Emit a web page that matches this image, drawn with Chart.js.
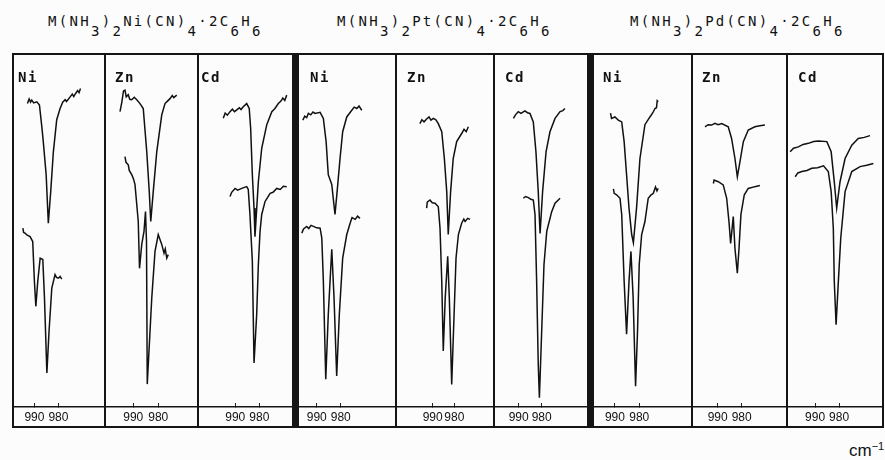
<!DOCTYPE html>
<html>
<head>
<meta charset="utf-8">
<script src="https://cdn.jsdelivr.net/npm/chart.js@4"></script>
<style>
  body { margin: 0; background: #fcfcfc; }
  #fig { position: relative; width: 885px; height: 460px; overflow: hidden; }
  .title { position: absolute; top: 14px; font: 14px "DejaVu Sans Mono", monospace; letter-spacing: 2.3px; color: #111; line-height: 14px; white-space: nowrap; }
  .title .s { position: relative; top: 10px; }
  .lab { position: absolute; top: 70px; font: bold 14px "DejaVu Sans Mono", monospace; letter-spacing: 1.5px; color: #111; line-height: 14px; }
  .ln { position: absolute; background: #151515; }
  .panel { position: absolute; top: 55px; }
  #unit { position: absolute; left: 849px; top: 442px; font: 17px "Liberation Sans", sans-serif; color: #111; line-height: 17px; }
  #unit span { position: relative; top: -6px; font-size: 11px; }
</style>
</head>
<body>
<div id="fig">
  <div class="title" style="left:48px">M(NH<span class="s">3</span>)<span class="s">2</span>Ni(CN)<span class="s">4</span>·2C<span class="s">6</span>H<span class="s">6</span></div>
  <div class="title" style="left:337px">M(NH<span class="s">3</span>)<span class="s">2</span>Pt(CN)<span class="s">4</span>·2C<span class="s">6</span>H<span class="s">6</span></div>
  <div class="title" style="left:630px">M(NH<span class="s">3</span>)<span class="s">2</span>Pd(CN)<span class="s">4</span>·2C<span class="s">6</span>H<span class="s">6</span></div>
  <div id="unit">cm<span>−1</span></div>
</div>
<script>
// wavenumber ticks shown on every panel
const tickValues = [990, 980];

// [wavenumber cm-1, transmittance %]
// M(NH3)2Ni(CN)4.2C6H6
const niNiUpper = [[992.9,86.2],[992.2,87.5],[991.6,86.6],[991.1,87.2],[990.3,86.4],[989.0,86.7],[987.9,85.8],[986.9,79.6],[986.3,75.4],[985.1,66.0],[984.2,52.2],[983.2,61.2],[982.1,72.5],[980.7,81.6],[979.3,84.8],[978.2,86.6],[977.2,87.3],[976.6,86.8],[975.1,88.1],[974.2,88.9],[973.6,88.2],[972.9,89.0],[972.0,89.9],[971.4,89.3],[970.8,90.5]];
const niNiLower = [[994.8,50.8],[994.5,49.6],[993.9,49.4],[993.0,48.8],[991.8,48.4],[990.7,47.0],[990.0,35.7],[989.4,28.6],[988.6,35.7],[987.6,42.3],[986.5,41.9],[985.8,31.0],[984.8,9.7],[983.9,21.5],[982.75,33.8],[981.4,37.6],[980.8,36.8],[980.0,36.6],[979.3,37.1],[978.6,36.3]];
const niZnUpper = [[995.3,83.9],[994.6,86.5],[993.9,89.8],[993.3,90.0],[992.8,88.1],[992.0,88.7],[991.4,87.4],[990.6,87.3],[989.6,88.0],[988.6,87.3],[987.3,86.2],[986.0,84.8],[984.6,72.5],[983.6,61.2],[983.0,52.7],[982.0,61.2],[980.6,72.5],[978.6,83.0],[977.3,86.2],[976.3,86.9],[975.3,87.6],[974.4,88.5],[973.8,87.9],[972.6,88.6]];
const niZnLower = [[993.3,71.1],[992.9,69.5],[992.0,68.8],[991.6,67.2],[990.6,66.0],[989.9,64.8],[989.3,63.2],[988.0,52.7],[987.5,39.4],[986.6,46.2],[985.7,49.9],[985.1,55.5],[984.7,47.0],[984.4,6.5],[982.6,30.9],[981.3,44.2],[980.0,49.0],[978.6,46.2],[977.7,43.7],[977.2,44.9],[976.6,42.3],[976.0,43.3]];
const niCdUpper = [[995.0,82.0],[994.2,83.5],[993.3,82.9],[992.2,83.9],[991.2,84.6],[990.3,83.9],[989.4,84.4],[988.3,85.0],[987.6,84.5],[986.7,85.3],[985.25,86.2],[984.2,84.8],[983.6,79.1],[982.9,66.0],[982.2,56.5],[981.8,48.4],[980.4,64.0],[979.0,73.5],[976.9,80.2],[974.8,83.9],[973.5,84.8],[972.1,86.2],[971.0,86.9],[970.2,87.8],[969.4,87.1],[968.6,88.6]];
const niCdLower = [[992.2,59.8],[991.5,61.0],[990.1,62.1],[989.0,61.6],[987.3,62.1],[986.2,62.4],[985.25,62.6],[984.6,61.8],[983.9,54.7],[982.9,41.4],[982.2,12.5],[981.1,26.3],[980.4,40.5],[979.7,49.9],[979.0,54.7],[977.6,58.4],[976.6,59.5],[975.5,60.7],[974.3,61.0],[972.75,62.1],[971.3,61.8],[970.0,62.7],[968.6,62.6]];

// M(NH3)2Pt(CN)4.2C6H6
const ptNiUpper = [[995.8,81.5],[995.0,82.6],[994.2,82.2],[993.5,83.4],[992.5,83.0],[991.6,83.8],[990.7,83.4],[988.6,83.7],[987.25,82.0],[986.1,75.4],[985.2,66.0],[983.75,63.2],[982.4,54.7],[981.4,62.1],[980.3,70.6],[979.2,78.2],[977.5,82.4],[975.4,84.3],[974.4,85.2],[973.3,84.8],[972.4,85.5],[971.25,84.3]];
const ptNiLower = [[996.25,49.4],[995.5,50.6],[994.2,51.3],[993.3,50.7],[992.4,51.6],[991.4,51.3],[990.0,50.9],[988.6,50.8],[987.9,48.0],[987.25,35.7],[986.25,7.9],[985.2,26.3],[983.75,44.8],[982.8,31.0],[981.7,8.8],[980.6,26.3],[979.2,42.3],[977.5,49.0],[976.1,52.2],[975.3,53.8],[974.0,53.3],[973.0,54.2],[972.0,53.6]];
const ptZnUpper = [[995.9,80.5],[995.0,81.6],[994.0,81.0],[992.8,81.8],[991.7,82.4],[990.8,81.5],[989.7,82.0],[988.5,81.6],[987.4,80.5],[985.8,78.2],[984.6,70.6],[983.5,61.2],[982.8,49.0],[981.7,61.2],[980.5,70.6],[978.9,75.4],[976.6,77.7],[975.5,78.9],[974.5,78.2],[973.5,79.6]];
const ptZnLower = [[992.8,56.5],[992.5,58.2],[991.25,58.8],[990.2,58.0],[988.9,57.9],[987.4,56.9],[986.6,50.8],[985.8,35.7],[985.1,15.9],[984.2,31.0],[983.05,42.8],[982.3,31.0],[981.2,6.4],[980.1,26.3],[979.2,42.3],[978.1,49.0],[976.6,52.2],[975.6,53.4],[975.0,52.7],[973.8,53.6],[972.7,53.3]];
const ptCdUpper = [[992.3,82.0],[991.4,83.0],[990.2,83.9],[989.0,83.4],[987.3,84.1],[986.2,83.6],[985.1,83.4],[983.65,81.0],[982.5,72.5],[981.5,61.2],[980.7,49.3],[979.6,61.2],[978.1,72.5],[976.4,78.2],[974.2,82.0],[972.0,83.9],[970.8,84.2],[969.9,84.8]];
const ptCdLower = [[988.0,59.3],[987.0,59.8],[985.8,59.5],[984.7,59.0],[983.65,58.8],[982.9,54.7],[982.2,35.7],[981.5,12.2],[981.0,2.6],[980.0,21.5],[979.0,40.5],[977.8,49.9],[975.65,55.5],[974.2,57.9],[972.0,59.3]];

// M(NH3)2Pd(CN)4.2C6H6
const pdNiUpper = [[991.8,83.5],[991.4,82.0],[990.0,82.4],[988.6,81.5],[987.2,81.0],[986.2,75.4],[985.2,66.0],[984.2,56.5],[983.1,49.0],[982.4,46.7],[981.1,56.5],[979.7,70.6],[977.65,80.2],[975.6,82.4],[974.4,83.6],[973.5,84.8],[972.9,85.0],[972.6,87.0],[972.2,86.7]];
const pdNiLower = [[990.6,62.0],[990.3,60.7],[989.3,60.3],[987.9,59.3],[987.2,54.7],[986.2,35.7],[985.2,20.7],[984.2,35.7],[983.4,44.2],[982.5,31.0],[981.5,5.9],[980.7,21.5],[980.0,40.5],[979.0,49.0],[977.65,52.7],[976.3,59.3],[975.2,60.2],[974.2,60.7],[973.3,62.5],[972.7,61.4],[972.2,62.1]];
const pdZnUpper = [[995.3,79.6],[994.0,80.2],[992.5,80.1],[991.2,80.6],[989.8,80.2],[988.3,80.5],[985.6,79.6],[984.2,76.3],[982.8,70.6],[981.8,65.4],[980.7,69.7],[979.3,75.4],[977.25,78.7],[974.5,79.6],[972.4,79.9],[970.3,80.1]];
const pdZnLower = [[991.8,63.5],[991.5,64.5],[989.75,64.0],[987.7,63.1],[986.25,59.3],[985.3,52.7],[984.6,46.5],[983.5,54.1],[982.8,45.1],[981.8,38.0],[981.1,45.1],[980.3,54.7],[978.9,60.3],[977.25,62.1],[974.5,62.6],[972.4,62.9]];
const pdCdUpper = [[1000.4,72.5],[999.0,73.5],[997.0,73.9],[995.0,74.6],[992.8,74.9],[990.6,75.4],[988.6,75.6],[985.1,75.4],[983.3,72.5],[982.0,64.0],[981.0,56.5],[979.6,64.0],[977.5,70.6],[974.7,74.4],[972.0,76.3],[969.5,76.6],[967.1,77.1]];
const pdCdLower = [[998.3,65.4],[997.2,66.5],[995.5,66.9],[993.4,67.2],[991.4,67.8],[989.0,68.0],[986.5,68.5],[984.5,66.9],[983.3,61.2],[982.4,50.8],[982.0,35.7],[981.25,23.4],[980.3,35.7],[979.3,48.0],[977.5,61.2],[974.7,66.9],[971.25,68.3],[968.5,68.7],[965.7,69.2]];

// panel placement and wavenumber window of each panel
const panels = [
  { label: 'Ni', left: 14,  width: 90, labX: 18,  max: 998.5,  min: 961.0, traces: [niNiUpper, niNiLower] },
  { label: 'Zn', left: 106, width: 91, labX: 115, max: 1000.9, min: 964.5, traces: [niZnUpper, niZnLower] },
  { label: 'Cd', left: 199, width: 93, labX: 201, max: 1005.1, min: 966.4, traces: [niCdUpper, niCdLower] },
  { label: 'Ni', left: 299, width: 96, labX: 310, max: 997.4,  min: 957.4, traces: [ptNiUpper, ptNiLower] },
  { label: 'Zn', left: 397, width: 96, labX: 407, max: 1006.5, min: 962.1, traces: [ptZnUpper, ptZnLower] },
  { label: 'Cd', left: 495, width: 92, labX: 505, max: 1000.3, min: 960.3, traces: [ptCdUpper, ptCdLower] },
  { label: 'Ni', left: 594, width: 97, labX: 603, max: 998.6,  min: 958.7, traces: [pdNiUpper, pdNiLower] },
  { label: 'Zn', left: 693, width: 93, labX: 702, max: 1000.3, min: 961.5, traces: [pdZnUpper, pdZnLower] },
  { label: 'Cd', left: 788, width: 94, labX: 798, max: 1001.3, min: 962.1, traces: [pdCdUpper, pdCdLower] }
];

const fig = document.getElementById('fig');

function addLine(x, y, w, h) {
  const d = document.createElement('div');
  d.className = 'ln';
  d.style.cssText = `left:${x}px;top:${y}px;width:${w}px;height:${h}px`;
  fig.appendChild(d);
}

panels.forEach(p => {
  const box = document.createElement('div');
  box.className = 'panel';
  box.style.left = p.left + 'px';
  const cv = document.createElement('canvas');
  cv.width = p.width;
  cv.height = 373;
  box.appendChild(cv);
  fig.appendChild(box);

  const lab = document.createElement('div');
  lab.className = 'lab';
  lab.style.left = p.labX + 'px';
  lab.textContent = p.label;
  fig.appendChild(lab);

  new Chart(cv.getContext('2d'), {
    type: 'line',
    data: {
      datasets: p.traces.map(t => ({
        data: t,
        borderColor: '#111',
        borderWidth: 1.5,
        pointRadius: 0,
        tension: 0,
        fill: false
      }))
    },
    options: {
      responsive: false,
      animation: false,
      layout: { padding: 0 },
      plugins: { legend: { display: false }, tooltip: { enabled: false } },
      scales: {
        x: {
          type: 'linear',
          reverse: true,
          min: p.min,
          max: p.max,
          afterBuildTicks: s => { s.ticks = tickValues.map(v => ({ value: v })); },
          afterFit: s => { s.height = 21; },
          grid: { drawOnChartArea: false, tickLength: -4, color: '#222', lineWidth: 1 },
          border: { color: '#151515', width: 1.5 },
          ticks: {
            padding: 7,
            color: '#111',
            maxRotation: 0,
            autoSkip: false,
            font: { family: 'Liberation Sans', size: 12 },
            callback: v => String(v)
          }
        },
        y: { display: false, min: 0, max: 100 }
      }
    }
  });
});

// frame
addLine(12, 53, 872, 2);
addLine(12, 426, 872, 2);
[12, 104, 197, 395, 493, 691, 786, 882].forEach(x => addLine(x, 53, 2, 375));
addLine(292, 53, 7, 375);
addLine(587, 53, 7, 375);
</script>
</body>
</html>
